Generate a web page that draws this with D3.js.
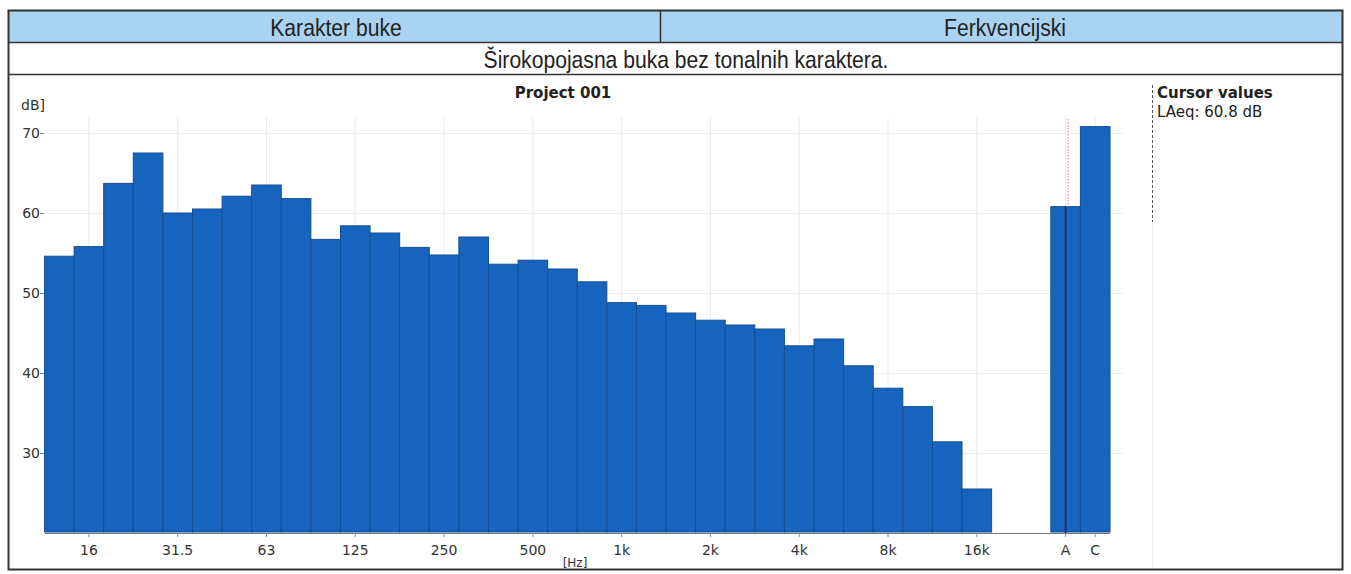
<!DOCTYPE html>
<html lang="hr">

<head>
    <meta charset="UTF-8">
    <title>Karakter buke - Project 001</title>
    <script src="https://d3js.org/d3.v7.min.js"></script>
    <style>
        body { margin: 0; background: #fff; }
        .head { font-family: "Liberation Sans", Arial, sans-serif; font-size: 24px; fill: #222; }
        .chart { font-family: Tahoma, "DejaVu Sans", sans-serif; font-size: 14px; fill: #333; }
    </style>
</head>

<body>
    <svg width="1351" height="574"></svg>

    <script>
        // 1/3 octave bands and measured levels (dB)
        const bands = ["12.5", "16", "20", "25", "31.5", "40", "50", "63", "80", "100",
            "125", "160", "200", "250", "315", "400", "500", "630", "800", "1k",
            "1.25k", "1.6k", "2k", "2.5k", "3.15k", "4k", "5k", "6.3k", "8k", "10k",
            "12.5k", "16k", "20k"];
        const levels = [54.6, 55.8, 63.7, 67.5, 60.0, 60.5, 62.1, 63.5, 61.8, 56.7,
            58.4, 57.5, 55.7, 54.75, 57.0, 53.6, 54.1, 53.0, 51.4, 48.8,
            48.45, 47.5, 46.6, 46.0, 45.5, 43.4, 44.25, 40.9, 38.1, 35.8,
            31.4, 25.5, null];

        // broadband totals
        const totals = ["A", "C"];
        const totalLevels = [60.8, 70.8];

        const xTickLabels = ["16", "31.5", "63", "125", "250", "500", "1k", "2k", "4k", "8k", "16k", "A", "C"];
        const yTicks = [30, 40, 50, 60, 70];

        const width = 1351;
        const height = 574;

        const svg = d3.select('svg')
            .attr('width', width)
            .attr('height', height);

        // ---- table header ----
        svg.append('rect')
            .attr('x', 9).attr('y', 11).attr('width', 1333).attr('height', 31)
            .attr('fill', '#a9d3f1');
        svg.append('rect')
            .attr('x', 8.5).attr('y', 10.5).attr('width', 1334).attr('height', 559)
            .attr('fill', 'none').attr('stroke', '#333').attr('stroke-width', 2);
        svg.append('line').attr('x1', 9).attr('x2', 1342).attr('y1', 42.5).attr('y2', 42.5)
            .attr('stroke', '#333').attr('stroke-width', 1.5);
        svg.append('line').attr('x1', 9).attr('x2', 1342).attr('y1', 74.5).attr('y2', 74.5)
            .attr('stroke', '#333').attr('stroke-width', 1.5);
        svg.append('line').attr('x1', 660.5).attr('x2', 660.5).attr('y1', 11).attr('y2', 42)
            .attr('stroke', '#333').attr('stroke-width', 1.5);

        // narrow look: squeeze the header text horizontally
        const headText = (cx, cy, txt) => svg.append('text').attr('class', 'head')
            .attr('transform', `translate(${cx},${cy}) scale(0.88,1)`)
            .attr('text-anchor', 'middle')
            .text(txt);
        headText(336, 36, 'Karakter buke');
        headText(1005, 36, 'Ferkvencijski');
        headText(686, 68, 'Širokopojasna buka bez tonalnih karaktera.');

        // ---- scales ----
        const domain = [...bands, ' ', ...totals];
        const x = d3.scaleBand()
            .domain(domain)
            .range([44.5, 1110])
            .padding(0);

        const y = d3.scaleLinear()
            .domain([20, 72])
            .range([533, 117]);

        const chart = svg.append('g').attr('class', 'chart');

        // grid
        chart.append('g')
            .selectAll('line')
            .data(yTicks)
            .join('line')
            .attr('x1', 45).attr('x2', 1122)
            .attr('y1', d => y(d) + 0.5).attr('y2', d => y(d) + 0.5)
            .attr('stroke', '#ececec');
        chart.append('g')
            .selectAll('line')
            .data(xTickLabels)
            .join('line')
            .attr('x1', d => x(d) + x.bandwidth() / 2)
            .attr('x2', d => x(d) + x.bandwidth() / 2)
            .attr('y1', 117).attr('y2', 533)
            .attr('stroke', '#ececec');

        // bars
        const barData = bands.map((b, i) => ({ key: b, value: levels[i] }))
            .concat(totals.map((t, i) => ({ key: t, value: totalLevels[i] })))
            .filter(d => d.value != null);

        chart.append('g')
            .selectAll('rect')
            .data(barData)
            .join('rect')
            .attr('x', d => x(d.key))
            .attr('width', x.bandwidth())
            .attr('y', d => y(d.value))
            .attr('height', d => y(20) - y(d.value) - 1)
            .attr('fill', '#1764be')
            .attr('stroke', '#134f94')
            .attr('stroke-width', 1);

        // cursor on the A bar
        const cx = x('A') + x.bandwidth() / 2;
        chart.append('line')
            .attr('x1', cx).attr('x2', cx)
            .attr('y1', y(totalLevels[0])).attr('y2', 533)
            .attr('stroke', '#24306e').attr('stroke-width', 2);
        chart.append('line')
            .attr('x1', cx + 2.5).attr('x2', cx + 2.5)
            .attr('y1', 119).attr('y2', y(totalLevels[0]))
            .attr('stroke', '#d77b9a').attr('stroke-width', 1)
            .attr('stroke-dasharray', '1.5,1.5');

        // x axis
        chart.append('line')
            .attr('x1', 45).attr('x2', 1110).attr('y1', 533.5).attr('y2', 533.5)
            .attr('stroke', '#777');
        const xAxis = chart.append('g')
            .attr('transform', 'translate(0,533)')
            .call(d3.axisBottom(x).tickValues(xTickLabels).tickSize(4).tickSizeOuter(0));
        xAxis.select('.domain').remove();
        xAxis.selectAll('.tick line').attr('stroke', '#888');
        xAxis.selectAll('.tick text')
            .attr('font-family', 'Tahoma, "DejaVu Sans", sans-serif')
            .attr('font-size', 14).attr('fill', '#333').attr('dy', '1.1em');

        chart.append('text')
            .attr('x', 575).attr('y', 567).attr('text-anchor', 'middle')
            .attr('font-size', 12)
            .text('[Hz]');

        // y axis
        const yAxis = chart.append('g')
            .attr('transform', 'translate(44,0)')
            .call(d3.axisLeft(y).tickValues(yTicks).tickSize(4).tickSizeOuter(0));
        yAxis.select('.domain').remove();
        yAxis.selectAll('.tick line').attr('stroke', '#888');
        yAxis.selectAll('.tick text')
            .attr('font-family', 'Tahoma, "DejaVu Sans", sans-serif')
            .attr('font-size', 14).attr('fill', '#333').attr('x', -4);

        chart.append('text')
            .attr('x', 21).attr('y', 110)
            .text('dB]');

        chart.append('text')
            .attr('x', 563).attr('y', 98).attr('text-anchor', 'middle')
            .attr('font-weight', 'bold').attr('fill', '#222')
            .attr('font-size', 15)
            .text('Project 001');

        // cursor values panel
        chart.append('line')
            .attr('x1', 1152.5).attr('x2', 1152.5).attr('y1', 85).attr('y2', 222)
            .attr('stroke', '#555').attr('stroke-dasharray', '3,2');
        chart.append('line')
            .attr('x1', 1152.5).attr('x2', 1152.5).attr('y1', 222).attr('y2', 568)
            .attr('stroke', '#eee');
        chart.append('text')
            .attr('x', 1157).attr('y', 98)
            .attr('font-weight', 'bold').attr('fill', '#222')
            .attr('font-size', 15)
            .text('Cursor values');
        chart.append('text')
            .attr('x', 1157).attr('y', 117)
            .attr('fill', '#222')
            .attr('font-size', 15)
            .text('LAeq: 60.8 dB');
    </script>
</body>

</html>
